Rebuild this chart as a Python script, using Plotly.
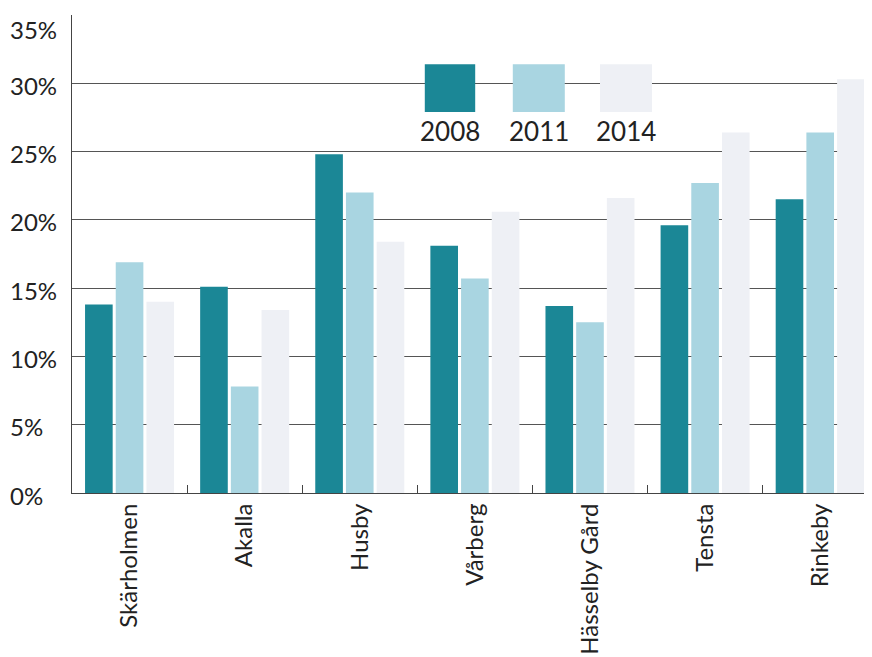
import plotly.graph_objects as go

categories = ["Skärholmen", "Akalla", "Husby", "Vårberg", "Hässelby Gård", "Tensta", "Rinkeby"]
years = ["2008", "2011", "2014"]
v2008 = [13.8, 15.1, 24.8, 18.1, 13.7, 19.6, 21.5]
v2011 = [16.9, 7.8, 22.0, 15.7, 12.5, 22.7, 26.4]
v2014 = [14.0, 13.4, 18.4, 20.6, 21.6, 26.4, 30.3]
ytick_vals = [0, 5, 10, 15, 20, 25, 30, 35]
ytick_text = ["0%", "5%", "10%", "15%", "20%", "25%", "30%", "35%"]

colors = ["#1b8796", "#a9d5e1", "#eef0f5"]
series = [v2008, v2011, v2014]
FONT = "Lato"

fig = go.Figure()
for name, vals, col in zip(years, series, colors):
    fig.add_trace(go.Bar(x=categories, y=vals, name=name, marker=dict(color=col, line=dict(width=0))))

# y tick labels, left aligned
top_val = max(ytick_vals)
for v, t in zip(ytick_vals, ytick_text):
    fig.add_annotation(x=-0.08, xref="paper", y=v, yref="y", text=t, showarrow=False,
                       xanchor="left", yanchor="top" if v == top_val else "middle",
                       yshift=2 if v == top_val else -2,
                       font=dict(family=FONT, size=24, color="#222"))

# custom legend: swatches with labels below
sw = [(0.441, 0.504), (0.551, 0.616), (0.66, 0.725)]
for (x0, x1), col, lab in zip(sw, colors, years):
    fig.add_shape(type="rect", xref="paper", yref="paper", x0=x0, x1=x1, y0=0.797, y1=0.897,
                  fillcolor=col, line=dict(width=0))
    fig.add_annotation(x=(x0 + x1) / 2, xref="paper", y=0.758, yref="paper", text=lab, showarrow=False,
                       xanchor="center", yanchor="middle", font=dict(family=FONT, size=26, color="#222"))

fig.update_layout(
    width=864, height=649,
    margin=dict(l=64, r=0, t=7, b=164),
    paper_bgcolor="white", plot_bgcolor="white",
    barmode="group", bargap=0.2, bargroupgap=0.1,
    showlegend=False,
    font=dict(family=FONT, size=24, color="#222"),
    xaxis=dict(tickangle=-90, tickson="boundaries", ticks="inside", ticklen=8, tickcolor="#444",
               showline=True, linecolor="#444", linewidth=1, showgrid=False,
               range=[-0.5, 6.45], tickfont=dict(family=FONT, size=24, color="#222")),
    yaxis=dict(range=[0, 35], tickvals=ytick_vals, showticklabels=False, showgrid=True,
               gridcolor="#555", gridwidth=1, showline=True, linecolor="#444", linewidth=1,
               zeroline=False, layer="below traces"),
)

fig.write_html("out.html")
